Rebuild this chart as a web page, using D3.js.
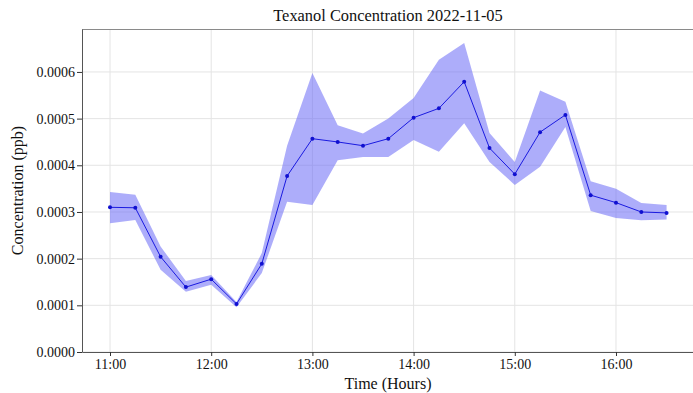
<!DOCTYPE html>
<html lang="en">
<head>
    <meta charset="UTF-8">
    <title>Texanol Concentration</title>
    <script type="text/javascript" src="https://cdn.jsdelivr.net/npm/d3@7"></script>
    <style type="text/css">
        body { margin: 0; background: #fff; }
        svg text { font-family: "Liberation Serif", "Times New Roman", serif; }
    </style>
</head>
<body>
    <script type="text/javascript">
        //Width and height
        var w = 693;
        var h = 393;

        // times as hours (15 minute steps)
        var times = [11, 11.25, 11.5, 11.75, 12, 12.25, 12.5, 12.75, 13, 13.25, 13.5, 13.75,
            14, 14.25, 14.5, 14.75, 15, 15.25, 15.5, 15.75, 16, 16.25, 16.5];

        var meanVals = [0.000310, 0.000309, 0.000204, 0.000139, 0.000156, 0.000103, 0.000189,
            0.000377, 0.000457, 0.000450, 0.000442, 0.000457, 0.000502, 0.000522, 0.000579,
            0.000437, 0.000381, 0.000471, 0.000508, 0.000336, 0.000320, 0.000300, 0.000298];

        var upperVals = [0.000343, 0.000337, 0.000226, 0.000152, 0.000165, 0.000107, 0.000212,
            0.000442, 0.000598, 0.000486, 0.000468, 0.000500, 0.000544, 0.000626, 0.000662,
            0.000469, 0.000407, 0.000560, 0.000536, 0.000366, 0.000350, 0.000319, 0.000315];

        var lowerVals = [0.000276, 0.000283, 0.000176, 0.000129, 0.000144, 0.000096, 0.000169,
            0.000322, 0.000315, 0.000411, 0.000418, 0.000418, 0.000454, 0.000429, 0.000490,
            0.000407, 0.000358, 0.000397, 0.000482, 0.000302, 0.000287, 0.000282, 0.000284];

        var xTicks = [11, 12, 13, 14, 15, 16];
        var xTickLabels = ["11:00", "12:00", "13:00", "14:00", "15:00", "16:00"];
        var yTicks = [0, 0.0001, 0.0002, 0.0003, 0.0004, 0.0005, 0.0006];

        var margin = { top: 29, right: 0, bottom: 41, left: 82 };

        var data = times.map(function(t, i) {
            return { t: t, m: meanVals[i], lo: lowerVals[i], hi: upperVals[i] };
        });

        var xScale = d3.scaleLinear()
            .domain([10.7233, 16.761])
            .range([margin.left, w - margin.right]);

        var yScale = d3.scaleLinear()
            .domain([0, 0.000692])
            .range([h - margin.bottom, margin.top]);

        //Create SVG element
        var svg = d3.select("body")
            .append("svg")
            .attr("width", w)
            .attr("height", h);

        //grid lines
        svg.append("g")
            .selectAll("line")
            .data(yTicks)
            .enter()
            .append("line")
            .attr("x1", margin.left)
            .attr("x2", w - margin.right)
            .attr("y1", function(d) { return yScale(d); })
            .attr("y2", function(d) { return yScale(d); })
            .attr("stroke", "#e4e4e4")
            .attr("stroke-width", 1);

        svg.append("g")
            .selectAll("line")
            .data(xTicks)
            .enter()
            .append("line")
            .attr("x1", function(d) { return xScale(d); })
            .attr("x2", function(d) { return xScale(d); })
            .attr("y1", margin.top)
            .attr("y2", h - margin.bottom)
            .attr("stroke", "#e4e4e4")
            .attr("stroke-width", 1);

        //band
        var area = d3.area()
            .x(function(d) { return xScale(d.t); })
            .y0(function(d) { return yScale(d.lo); })
            .y1(function(d) { return yScale(d.hi); });

        svg.append("path")
            .datum(data)
            .attr("d", area)
            .attr("fill", "#6a6af5")
            .attr("fill-opacity", 0.55);

        //mean line
        var line = d3.line()
            .x(function(d) { return xScale(d.t); })
            .y(function(d) { return yScale(d.m); });

        svg.append("path")
            .datum(data)
            .attr("d", line)
            .attr("fill", "none")
            .attr("stroke", "#1a1ae0")
            .attr("stroke-width", 1);

        svg.selectAll("circle")
            .data(data)
            .enter()
            .append("circle")
            .attr("cx", function(d) { return xScale(d.t); })
            .attr("cy", function(d) { return yScale(d.m); })
            .attr("r", 2)
            .attr("fill", "#1010d0");

        //top border
        svg.append("line")
            .attr("x1", margin.left)
            .attr("x2", w)
            .attr("y1", margin.top + 0.5)
            .attr("y2", margin.top + 0.5)
            .attr("stroke", "#8a8a8a");

        //axes
        var xAxis = d3.axisBottom(xScale)
            .tickValues(xTicks)
            .tickFormat(function(d, i) { return xTickLabels[i]; })
            .tickSizeInner(4)
            .tickSizeOuter(0)
            .tickPadding(3);

        var yAxis = d3.axisLeft(yScale)
            .tickValues(yTicks)
            .tickFormat(d3.format(".4f"))
            .tickSizeInner(5)
            .tickSizeOuter(0)
            .tickPadding(2);

        var gx = svg.append("g")
            .attr("transform", "translate(0," + (h - margin.bottom) + ")")
            .call(xAxis);

        var gy = svg.append("g")
            .attr("transform", "translate(" + margin.left + ",0)")
            .call(yAxis);

        [gx, gy].forEach(function(g) {
            g.select(".domain").attr("stroke", "#555");
            g.selectAll(".tick line").attr("stroke", "#333");
            g.selectAll(".tick text")
                .attr("fill", "#111")
                .attr("font-size", "14px")
                .attr("font-family", "Liberation Serif, serif");
        });

        //titles
        svg.append("text")
            .attr("x", 388)
            .attr("y", 21)
            .attr("text-anchor", "middle")
            .attr("font-size", "16.4px")
            .attr("fill", "#111")
            .text("Texanol Concentration 2022-11-05");

        svg.append("text")
            .attr("x", 388)
            .attr("y", 389)
            .attr("text-anchor", "middle")
            .attr("font-size", "16px")
            .attr("fill", "#111")
            .text("Time (Hours)");

        svg.append("text")
            .attr("transform", "translate(23," + ((margin.top + h - margin.bottom) / 2) + ") rotate(-90)")
            .attr("text-anchor", "middle")
            .attr("font-size", "16px")
            .attr("fill", "#111")
            .text("Concentration (ppb)");
    </script>
</body>
</html>
